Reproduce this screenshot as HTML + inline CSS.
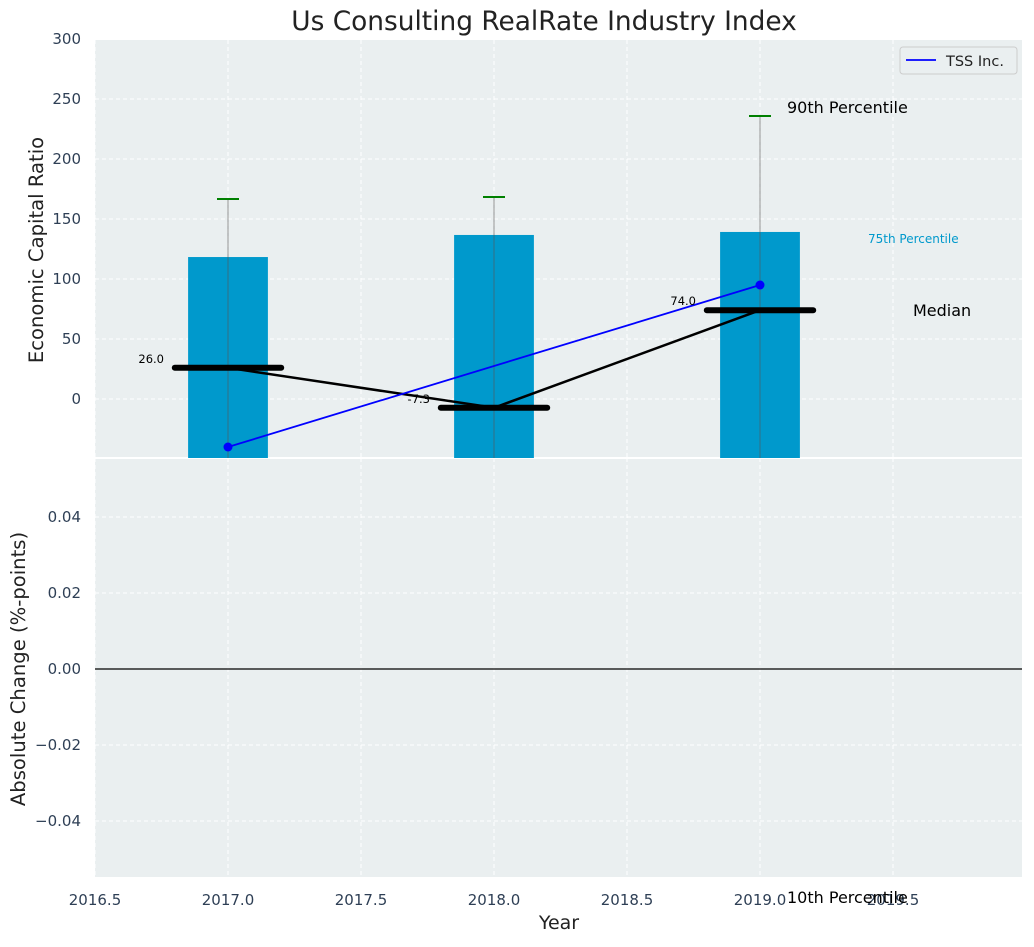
<!DOCTYPE html>
<html><head><meta charset="utf-8"><style>
body{margin:0;background:#fff;font-family:"Liberation Sans","DejaVu Sans",sans-serif;}
svg text{font-family:"DejaVu Sans","Liberation Sans",sans-serif;}
</style></head><body>
<svg id="c" width="1034" height="942" xmlns="http://www.w3.org/2000/svg"></svg>
<script>
const years=[2017,2018,2019];
const p75=[118.3,136.7,139.2];
const p90=[166.7,168.3,235.8];
const medians=[26.0,-7.3,74.0];
const tss=[-40,null,95];
const topTicks=[0,50,100,150,200,250,300];
const botTicks=[-0.04,-0.02,0,0.02,0.04];
const xTicks=[2016.5,2017,2017.5,2018,2018.5,2019,2019.5];

const NS="http://www.w3.org/2000/svg";
const svg=document.getElementById('c');
function el(t,a,p){const e=document.createElementNS(NS,t);for(const k in a)e.setAttribute(k,a[k]);(p||svg).appendChild(e);return e;}
const L=95,R=1022,T1=40,B1=458,T2=458,B2=877;
const x=v=>L+(v-2016.5)*266;
const y1=v=>399-v*1.2;
const y2=v=>669-v*3800;

const g1=el('g',{});
el('rect',{x:L,y:T1,width:R-L,height:B1-T1,fill:'#eaeff0'},g1);
const g2=el('g',{});
el('rect',{x:L,y:T2,width:R-L,height:B2-T2,fill:'#eaeff0'},g2);
el('line',{x1:L,x2:R,y1:458,y2:458,stroke:'#fff','stroke-width':2});

xTicks.forEach(v=>{
  [[T1,B1],[T2,B2]].forEach(r=>el('line',{x1:x(v),x2:x(v),y1:r[0],y2:r[1],stroke:'#fff','stroke-dasharray':'4,3','stroke-width':1}));
  const t=el('text',{x:x(v),y:905,'text-anchor':'middle','font-size':15,fill:'#2e3f55'});t.textContent=v.toFixed(1);
  
});
topTicks.forEach(v=>{
  el('line',{x1:L,x2:R,y1:y1(v),y2:y1(v),stroke:'#fff','stroke-dasharray':'4,3'});
  const t=el('text',{x:81,y:y1(v)+5,'text-anchor':'end','font-size':15,fill:'#2e3f55'});t.textContent=v;
  
});
botTicks.forEach(v=>{
  el('line',{x1:L,x2:R,y1:y2(v),y2:y2(v),stroke:'#fff','stroke-dasharray':'4,3'});
  const t=el('text',{x:81,y:y2(v)+5,'text-anchor':'end','font-size':15,fill:'#2e3f55'});t.textContent=(v<0?'\u2212':'')+Math.abs(v).toFixed(2);
  
});
el('line',{x1:L,x2:R,y1:y2(0),y2:y2(0),stroke:'#000','stroke-width':1.2});

const cp=el('clipPath',{id:'cp'});el('rect',{x:L,y:T1,width:R-L,height:B1-T1},cp);
const gc=el('g',{'clip-path':'url(#cp)'});
years.forEach((yr,i)=>{
  const b=el('rect',{x:x(yr-0.15),y:y1(p75[i]),width:0.3*266,height:y1(-60)-y1(p75[i]),fill:'#0099cc'},gc);
  
  el('line',{x1:x(yr),x2:x(yr),y1:y1(p90[i]),y2:y1(-60),stroke:'#555','stroke-opacity':0.6},gc);
  const c=el('line',{x1:x(yr)-11,x2:x(yr)+11,y1:y1(p90[i]),y2:y1(p90[i]),stroke:'green','stroke-width':2},gc);
  
});
let md='';medians.forEach((m,i)=>{md+=(i?'L':'M')+x(years[i])+','+y1(m);});
el('path',{d:md,stroke:'#000','stroke-width':2.5,fill:'none'},gc);
medians.forEach((m,i)=>{
  const l=el('line',{x1:x(years[i]-0.2),x2:x(years[i]+0.2),y1:y1(m),y2:y1(m),stroke:'#000','stroke-width':6,'stroke-linecap':'round'},gc);
  
  const t=el('text',{x:x(years[i])-64,y:y1(m)-5,'text-anchor':'end','font-size':11.5,fill:'#000'});t.textContent=m.toFixed(1);
  
});
let td='';let first=true;tss.forEach((v,i)=>{if(v==null)return;td+=(first?'M':'L')+x(years[i])+','+y1(v);first=false;});
const tl=el('path',{d:td,stroke:'blue','stroke-width':1.8,fill:'none'},gc);

tss.forEach((v,i)=>{if(v==null)return;const c=el('circle',{cx:x(years[i]),cy:y1(v),r:4.5,fill:'blue'},gc);
  });

function txt(s,a,name){const t=el('text',a);t.textContent=s;return t;}
txt('Us Consulting RealRate Industry Index',{x:544,y:30,'text-anchor':'middle','font-size':26.4,fill:'#222'},'chart-title');
txt('90th Percentile',{x:787,y:113,'font-size':16,fill:'#000'},'p90-label');
txt('75th Percentile',{x:868,y:243,'font-size':12,fill:'#0099cc'},'p75-label');
txt('Median',{x:913,y:316,'font-size':16,fill:'#000'},'median-text');
txt('10th Percentile',{x:787,y:903,'font-size':16,fill:'#000'},'p10-label');
txt('Year',{x:559,y:929,'text-anchor':'middle','font-size':19,fill:'#222'},'x-axis-title');
txt('Economic Capital Ratio',{x:43,y:250,'text-anchor':'middle','font-size':19.6,fill:'#222',transform:'rotate(-90 43 250)'},'y-axis-title-top');
txt('Absolute Change (%-points)',{x:25,y:669,'text-anchor':'middle','font-size':19.6,fill:'#222',transform:'rotate(-90 25 669)'},'y-axis-title-bottom');
const lg=el('g',{});
el('rect',{x:900,y:47,width:117,height:27,rx:3,fill:'#eaeff0',stroke:'#ccc'},lg);
el('line',{x1:906,x2:936,y1:60,y2:60,stroke:'blue','stroke-width':1.8},lg);
const lt=el('text',{x:946,y:66,'font-size':14.5,fill:'#222'},lg);lt.textContent='TSS Inc.';
</script>
</body></html>
